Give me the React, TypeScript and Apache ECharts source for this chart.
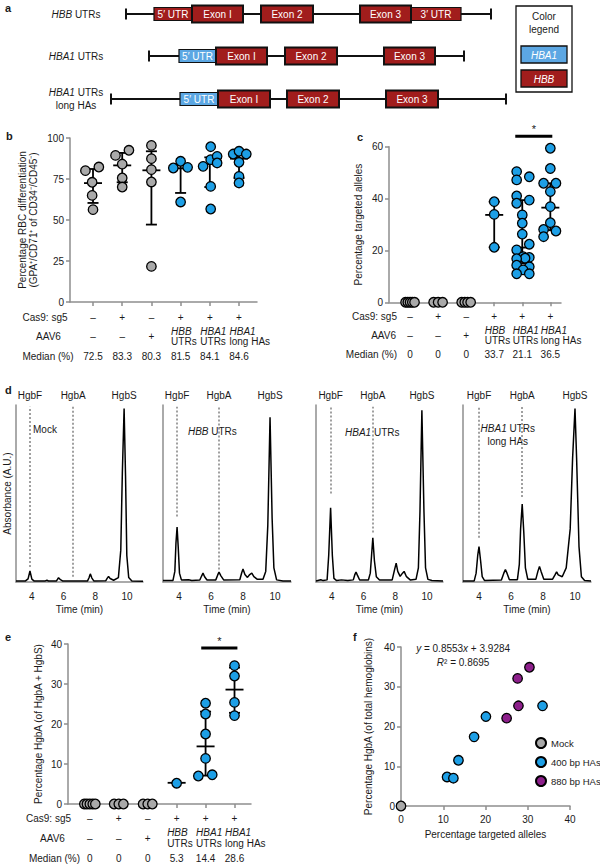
import React, { useEffect, useRef } from 'react';
import * as echarts from 'echarts';

const FONT = '"Liberation Sans", Arial, Helvetica, sans-serif';
const INK = '#1a1a1a';
const AXIS_GREY = '#8e8e8e';
const GREY = '#a9a9a9';
const BLUE = '#1d9fe6';
const PURPLE = '#8d1f8b';
const EXON_RED = '#a11d1c';
const UTR_BLUE = '#5ca7e3';

// ---------- panel a: gene constructs (schematic units) ----------
const geneRowLabels = ['{i|HBB} UTRs', '{i|HBA1} UTRs', '{i|HBA1} UTRs\nlong HAs'];
const geneRowY = [14, 56, 99];
const geneLines = [
  [126, 491, 0],
  [149, 464, 1],
  [111, 506, 2],
];
// start, end, row, kind (0 red UTR, 1 blue UTR, 2 exon)
const geneBoxes = [
  [154, 192, 0, 0], [411, 461, 0, 0], [192, 243, 0, 2], [261, 313, 0, 2], [360, 411, 0, 2],
  [179, 216, 1, 1], [216, 267, 1, 2], [285, 337, 1, 2], [384, 435, 1, 2],
  [180, 218, 2, 1], [218, 270, 2, 2], [287, 339, 2, 2], [386, 438, 2, 2],
];
const geneBoxLabels = [
  '5′ UTR', '3′ UTR', 'Exon I', 'Exon 2', 'Exon 3',
  '5′ UTR', 'Exon I', 'Exon 2', 'Exon 3',
  '5′ UTR', 'Exon I', 'Exon 2', 'Exon 3',
];

// ---------- shared table rows ----------
const cas9Row = ['–', '+', '–', '+', '+', '+'];
const aav6Row = ['–', '–', '+', '{i|HBB}\nUTRs', '{i|HBA1}\nUTRs', '{i|HBA1}\nlong HAs'];
const bMedianRow = ['72.5', '83.3', '80.3', '81.5', '84.1', '84.6'];
const cMedianRow = ['0', '0', '0', '33.7', '21.1', '36.5'];
const eMedianRow = ['0', '0', '0', '5.3', '14.4', '28.6'];

// ---------- panel b ----------
const bValues = [
  [80.1, 82.3, 73.0, 65.0, 56.3],
  [89.4, 92.5, 84.1, 75.6, 70.1],
  [95.5, 87.4, 80.7, 73.2, 21.7],
  [81.7, 85.8, 82.1, 61.0],
  [94.7, 82.7, 86.8, 88.8, 84.8, 70.5, 56.7],
  [90.2, 91.9, 90.2, 85.2, 76.6, 72.6],
];
const bJitter = [
  [-0.26, 0.2, -0.03, -0.03, 0],
  [-0.23, 0.23, 0, 0, 0],
  [0, 0, 0, 0, 0],
  [-0.25, 0, 0.24, 0],
  [0.03, -0.23, 0.03, 0.25, 0.25, 0.03, 0.03],
  [-0.2, 0, 0.25, 0, 0, 0],
];
const bErr = [
  [60.4, 72.5, 81.1],
  [73.0, 83.3, 90.9],
  [47.2, 80.3, 91.9],
  [66.5, 81.5, 84.0],
  [70.1, 84.1, 88.2],
  [75.6, 87.4, 90.5],
];

// ---------- panel c ----------
const cValues = [
  [0, 0, 0, 0, 0],
  [0, 0, 0],
  [0, 0, 0, 0],
  [38.8, 33.9, 21.2],
  [50.4, 48.4, 47.2, 41.0, 39.4, 38.2, 33.7, 30.5, 26.3, 22.4, 20.2, 17.6, 17.3, 17.0, 16.8, 14.3, 13.7, 12.5, 11.0, 11.0],
  [59.4, 51.6, 45.9, 45.9, 42.7, 36.9, 30.7, 28.1, 27.5, 25.3],
];
const cJitter = [
  [-0.16, -0.08, 0, 0.08, 0.16],
  [-0.16, 0, 0.16],
  [-0.16, -0.05, 0.05, 0.16],
  [0, 0, 0],
  [-0.2, 0.25, -0.2, -0.2, 0.25, -0.2, 0, 0, 0, 0.25, -0.2, 0.03, 0.25, 0.1, -0.2, -0.2, 0.25, 0.03, -0.2, 0.25],
  [0, 0, -0.24, 0.2, 0, 0, 0, -0.24, 0.2, -0.24],
];
const cErr = [null, null, null, [21.2, 33.7, 38.8], [15.0, 21.1, 39.4], [27.8, 36.5, 45.9]];
const cSig = [3.75, 5.07, 64];

// ---------- panel d: chromatograms [time (min), absorbance] ----------
const dMock = [[3.0,0.6],[3.6,0.6],[3.76,1.8],[3.88,6.2],[4.0,1.6],[4.15,0.5],[4.85,0.6],[4.95,1.0],[5.05,0.5],[5.55,0.6],[5.68,2.4],[5.8,1.3],[5.95,0.5],[7.5,0.5],[7.6,2.4],[7.68,4.6],[7.78,2.2],[7.9,0.6],[8.65,0.7],[8.75,2.2],[8.83,3.1],[8.93,2.0],[9.15,1.0],[9.45,2.5],[9.6,18],[9.7,62],[9.81,98],[9.9,60],[9.98,15],[10.1,2.5],[10.3,0.5],[11.0,0.4]];
const dHbb = [[3.0,0.8],[3.62,0.8],[3.74,6],[3.81,22],[3.88,31],[3.95,20],[4.03,5],[4.15,1.2],[4.6,1.3],[4.8,0.9],[5.3,1.1],[5.42,3.5],[5.5,5],[5.6,3],[5.75,1.1],[6.3,1.2],[6.42,4],[6.5,5.6],[6.62,3.5],[6.8,1.1],[7.8,1.3],[7.92,5.2],[8.0,7.3],[8.12,4.2],[8.28,2.6],[8.42,4.2],[8.55,5],[8.68,3],[8.9,1.5],[9.25,1.6],[9.42,6],[9.55,32],[9.69,93],[9.82,36],[9.93,8],[10.1,1.2],[10.5,0.6],[11.0,0.6]];
const dHba = [[3.0,0.6],[3.3,1.3],[3.45,0.8],[3.7,1.2],[3.8,15],[3.92,42],[4.03,15],[4.13,2],[4.3,0.8],[4.6,1.2],[5.0,0.8],[5.35,1.2],[5.44,4],[5.52,5.6],[5.6,4],[5.75,1.1],[6.3,1.1],[6.42,5],[6.5,15],[6.58,25],[6.68,12],[6.8,3],[7.0,1.1],[7.8,1.2],[7.95,7],[8.05,10.7],[8.15,6],[8.3,3.2],[8.45,5],[8.55,6],[8.7,3],[8.95,1.1],[9.3,1.5],[9.45,8],[9.55,40],[9.67,97],[9.8,40],[9.9,8],[10.05,1.5],[10.3,0.8],[11.0,0.6]];
const dHbaLong = [[3.0,0.6],[3.7,0.6],[3.82,5],[3.92,15],[4.0,20],[4.1,12],[4.2,3],[4.35,0.8],[5.4,1.1],[5.55,5],[5.65,7],[5.75,5],[5.9,1.3],[6.4,1.3],[6.52,10],[6.6,30],[6.7,44],[6.8,28],[6.9,8],[7.05,1.5],[7.55,1.5],[7.68,6],[7.78,8.7],[7.88,6],[8.05,1.6],[8.6,1.6],[8.75,4],[8.85,5.8],[8.95,4],[9.2,3],[9.45,8],[9.7,30],[9.85,70],[10.0,98],[10.1,70],[10.25,20],[10.4,3],[10.6,0.8],[11.0,0.6]];
const dTraces = [dMock, dHbb, dHba, dHbaLong];
const dPeakNames = ['HgbF', 'HgbA', 'HgbS'];
const dPeakTimes = [[3.88, 6.6, 9.81], [3.88, 6.5, 9.69], [3.92, 6.58, 9.67], [4.0, 6.7, 10.0]];
const dMarkerBottoms = [[8.5, 3], [37, 7], [50, 28], [25, 48]];
const dTitles = ['Mock', '{i|HBB} UTRs', '{i|HBA1} UTRs', '{i|HBA1} UTRs\nlong HAs'];
const dTitleAt = [[4.07, 86, 'left'], [4.56, 85.3, 'left'], [4.83, 84.7, 'left'], [5.8, 83, 'center']];
const dTimeTicks = [4, 6, 8, 10];

// ---------- panel e ----------
const eValues = [
  [0, 0, 0, 0, 0],
  [0, 0, 0],
  [0, 0, 0],
  [5.2],
  [25.2, 22.5, 17.5, 11.4, 7.0, 7.3],
  [34.6, 32.0, 25.4, 22.1],
];
const eJitter = [
  [-0.19, -0.1, 0, 0.1, 0.19],
  [-0.16, 0, 0.16],
  [-0.16, 0, 0.16],
  [0],
  [0, 0, 0, 0, -0.25, 0.23],
  [0, 0, 0, 0],
];
const eErr = [null, null, null, [5.3, 5.3, 5.3], [7.1, 14.4, 23.1], [22.8, 28.6, 34.1]];
const eSig = [3.85, 5.1, 39];

// ---------- panel f ----------
const fMock = [[0, 0]];
const f400 = [[10.9, 7.3], [12.4, 7.0], [13.6, 11.5], [17.3, 17.4], [20.1, 22.5], [33.5, 25.2]];
const f880 = [[25.0, 22.1], [27.8, 25.2], [27.6, 32.1], [30.4, 34.9]];
const fSeriesNames = ['Mock', '400 bp HAs', '880 bp HAs'];

// ---------- helpers ----------
const axisLineStyle = { color: AXIS_GREY, width: 1.5 };
const labelStyle = { fontSize: 10, fontFamily: FONT, color: INK };

function jitterPoints(values: number[][], jitter: number[][], cols: number[]) {
  const pts: number[][] = [];
  cols.forEach((i) => values[i].forEach((v, j) => pts.push([i + jitter[i][j], v])));
  return pts;
}

function errData(err: (number[] | null)[]) {
  const out: number[][] = [];
  err.forEach((e, i) => { if (e) out.push([i, e[0], e[1], e[2]]); });
  return out;
}

function errorSeries(idx: number, err: (number[] | null)[]) {
  return {
    type: 'custom', xAxisIndex: idx, yAxisIndex: idx, silent: true, z: 2,
    data: errData(err),
    encode: { x: 0, y: [1, 2, 3] },
    renderItem: (_p: any, api: any) => {
      const x = api.value(0);
      const lo = api.coord([x, api.value(1)]);
      const mid = api.coord([x, api.value(2)]);
      const hi = api.coord([x, api.value(3)]);
      const st = { stroke: '#000', lineWidth: 1.8 };
      return {
        type: 'group',
        children: [
          { type: 'line', shape: { x1: lo[0], y1: lo[1], x2: hi[0], y2: hi[1] }, style: st },
          { type: 'line', shape: { x1: lo[0] - 5.5, y1: lo[1], x2: lo[0] + 5.5, y2: lo[1] }, style: st },
          { type: 'line', shape: { x1: hi[0] - 5.5, y1: hi[1], x2: hi[0] + 5.5, y2: hi[1] }, style: st },
          { type: 'line', shape: { x1: mid[0] - 9, y1: mid[1], x2: mid[0] + 9, y2: mid[1] }, style: st },
        ],
      };
    },
  };
}

function sigSeries(idx: number, sig: number[]) {
  return {
    type: 'custom', xAxisIndex: idx, yAxisIndex: idx, silent: true, z: 4,
    data: [sig],
    encode: { x: [0, 1], y: 2 },
    renderItem: (_p: any, api: any) => {
      const a = api.coord([api.value(0), api.value(2)]);
      const b = api.coord([api.value(1), api.value(2)]);
      return {
        type: 'group',
        children: [
          { type: 'line', shape: { x1: a[0], y1: a[1], x2: b[0], y2: b[1] }, style: { stroke: '#000', lineWidth: 3 } },
          { type: 'text', x: (a[0] + b[0]) / 2, y: a[1] - 2, style: { text: '*', fontSize: 11, fontFamily: FONT, fill: INK, align: 'center', verticalAlign: 'bottom' } },
        ],
      };
    },
  };
}

function dotSeries(idx: number, name: string, data: number[][], color: string) {
  return {
    type: 'scatter', name, xAxisIndex: idx, yAxisIndex: idx, data, z: 3,
    symbol: 'circle', symbolSize: 9.5, clip: false,
    itemStyle: { color, borderColor: '#000', borderWidth: 1.3, opacity: 1 },
  };
}

function catX(gi: number, min: number, max: number) {
  return {
    type: 'value', gridIndex: gi, min, max,
    axisLine: { show: true, onZero: false, lineStyle: axisLineStyle },
    axisTick: { show: true, customValues: [0, 1, 2, 3, 4, 5], length: 4, lineStyle: axisLineStyle },
    axisLabel: { show: false },
    splitLine: { show: false },
  };
}

function valY(gi: number, max: number, interval: number, name: string, nameGap: number) {
  return {
    type: 'value', gridIndex: gi, min: 0, max, interval,
    name, nameLocation: 'middle', nameGap,
    nameTextStyle: { ...labelStyle, lineHeight: 11 },
    axisLine: { show: true, onZero: false, lineStyle: axisLineStyle },
    axisTick: { show: true, length: 4, lineStyle: axisLineStyle },
    axisLabel: { ...labelStyle, margin: 6 },
    splitLine: { show: false },
  };
}

function chromX(gi: number) {
  return {
    type: 'value', gridIndex: gi, min: 3, max: 11,
    name: 'Time (min)', nameLocation: 'middle', nameGap: 22, nameTextStyle: labelStyle,
    axisLine: { show: true, onZero: false, lineStyle: axisLineStyle },
    axisTick: { show: false },
    axisLabel: { ...labelStyle, margin: 9, customValues: dTimeTicks },
    splitLine: { show: false },
  };
}

function chromY(gi: number, name: string) {
  return {
    type: 'value', gridIndex: gi, min: 0, max: 100,
    name, nameLocation: 'middle', nameGap: 4, nameTextStyle: labelStyle,
    axisLine: { show: true, onZero: false, lineStyle: axisLineStyle },
    axisTick: { show: false }, axisLabel: { show: false }, splitLine: { show: false },
  };
}

function buildOption() {
  const grids = [
    { left: 0, top: 0, width: 600, height: 110 },
    { left: 70, top: 138, width: 187, height: 164 },
    { left: 389, top: 146.7, width: 172, height: 155.6 },
    { left: 16, top: 405, width: 127, height: 177 },
    { left: 163, top: 405, width: 128, height: 177 },
    { left: 316, top: 405, width: 127, height: 177 },
    { left: 463, top: 405, width: 128, height: 177 },
    { left: 68, top: 644, width: 183, height: 160 },
    { left: 401, top: 647, width: 169, height: 159 },
  ].map((g) => ({ ...g, containLabel: false, outerBoundsMode: 'none' }));

  const xAxis: any[] = [
    { type: 'value', gridIndex: 0, min: 0, max: 600, show: false },
    catX(1, -0.788, 5.616),
    catX(2, -0.75, 5.38),
    chromX(3), chromX(4), chromX(5), chromX(6),
    catX(7, -0.755, 5.57),
    {
      type: 'value', gridIndex: 8, min: 0, max: 40, interval: 10,
      name: 'Percentage targeted alleles', nameLocation: 'middle', nameGap: 23, nameTextStyle: labelStyle,
      axisLine: { show: true, onZero: false, lineStyle: axisLineStyle },
      axisTick: { show: true, length: 4, lineStyle: axisLineStyle },
      axisLabel: { ...labelStyle, margin: 8 }, splitLine: { show: false },
    },
  ];
  const yAxis: any[] = [
    { type: 'value', gridIndex: 0, min: 0, max: 110, inverse: true, show: false },
    valY(1, 100, 25, 'Percentage RBC differentiation\n(GPA⁺/CD71⁺ of CD34⁻/CD45⁻)', 31),
    valY(2, 60, 20, 'Percentage targeted alleles', 25),
    chromY(3, 'Absorbance (A.U.)'), chromY(4, ''), chromY(5, ''), chromY(6, ''),
    valY(7, 40, 10, 'Percentage HgbA (of HgbA + HgbS)', 24),
    valY(8, 40, 10, 'Percentage HgbA (of total hemoglobins)', 27),
  ];

  const series: any[] = [];

  // panel a
  series.push({
    type: 'custom', xAxisIndex: 0, yAxisIndex: 0, silent: true,
    data: geneLines, encode: { x: [0, 1], y: 2 },
    renderItem: (_p: any, api: any) => {
      const row = api.value(2);
      const a = api.coord([api.value(0), geneRowY[row]]);
      const b = api.coord([api.value(1), geneRowY[row]]);
      const st = { stroke: '#111', lineWidth: 2 };
      return {
        type: 'group',
        children: [
          { type: 'line', shape: { x1: a[0], y1: a[1], x2: b[0], y2: b[1] }, style: st },
          { type: 'line', shape: { x1: a[0], y1: a[1] - 5.5, x2: a[0], y2: a[1] + 5.5 }, style: st },
          { type: 'line', shape: { x1: b[0], y1: b[1] - 5.5, x2: b[0], y2: b[1] + 5.5 }, style: st },
        ],
      };
    },
  });
  series.push({
    type: 'custom', xAxisIndex: 0, yAxisIndex: 0, silent: true,
    data: geneBoxes, encode: { x: [0, 1], y: 2 },
    renderItem: (p: any, api: any) => {
      const row = api.value(2);
      const kind = api.value(3);
      const a = api.coord([api.value(0), geneRowY[row]]);
      const b = api.coord([api.value(1), geneRowY[row]]);
      const h = kind === 2 ? 17 : 13;
      return {
        type: 'group',
        children: [
          {
            type: 'rect',
            shape: { x: a[0], y: a[1] - h / 2, width: b[0] - a[0], height: h },
            style: { fill: kind === 1 ? UTR_BLUE : EXON_RED, stroke: '#111', lineWidth: kind === 2 ? 2 : 1.2 },
          },
          {
            type: 'text', x: (a[0] + b[0]) / 2, y: a[1] + 0.5,
            style: { text: geneBoxLabels[p.dataIndex], fill: '#fff', fontSize: 10, fontFamily: FONT, align: 'center', verticalAlign: 'middle' },
          },
        ],
      };
    },
  });

  // panel b
  series.push(errorSeries(1, bErr));
  series.push(dotSeries(1, 'b-ctrl', jitterPoints(bValues, bJitter, [0, 1, 2]), GREY));
  series.push(dotSeries(1, 'b-edit', jitterPoints(bValues, bJitter, [3, 4, 5]), BLUE));

  // panel c
  series.push(errorSeries(2, cErr));
  series.push(dotSeries(2, 'c-ctrl', jitterPoints(cValues, cJitter, [0, 1, 2]), GREY));
  series.push(dotSeries(2, 'c-edit', jitterPoints(cValues, cJitter, [3, 4, 5]), BLUE));
  series.push(sigSeries(2, cSig));

  // panel d
  dTraces.forEach((trace, k) => {
    const gi = 3 + k;
    series.push({
      type: 'line', xAxisIndex: gi, yAxisIndex: gi, data: trace, showSymbol: false, symbol: 'none',
      silent: true, z: 3,
      lineStyle: { color: '#000', width: 1.5 },
      markLine: {
        silent: true, symbol: 'none', label: { show: false },
        lineStyle: { type: [2, 2], color: '#a0a0a0', width: 2 },
        data: [
          [{ coord: [dPeakTimes[k][0], dMarkerBottoms[k][0]] }, { coord: [dPeakTimes[k][0], 99] }],
          [{ coord: [dPeakTimes[k][1], dMarkerBottoms[k][1]] }, { coord: [dPeakTimes[k][1], 99] }],
        ],
      },
    });
  });

  // panel e
  series.push(errorSeries(7, eErr));
  series.push(dotSeries(7, 'e-ctrl', jitterPoints(eValues, eJitter, [0, 1, 2]), GREY));
  series.push(dotSeries(7, 'e-edit', jitterPoints(eValues, eJitter, [3, 4, 5]), BLUE));
  series.push(sigSeries(7, eSig));

  // panel f
  series.push(dotSeries(8, fSeriesNames[0], fMock, GREY));
  series.push(dotSeries(8, fSeriesNames[1], f400, BLUE));
  series.push(dotSeries(8, fSeriesNames[2], f880, PURPLE));

  return {
    animation: false,
    backgroundColor: '#fff',
    textStyle: { fontFamily: FONT },
    grid: grids,
    xAxis, yAxis, series,
    legend: {
      data: fSeriesNames, orient: 'vertical', left: 535, top: 737, padding: 0,
      itemWidth: 10, itemHeight: 10, itemGap: 7, icon: 'circle',
      textStyle: { fontSize: 9.5, fontFamily: FONT, color: INK },
      selectedMode: false,
    },
  };
}

function txt(x: number, y: number, text: string, extra: any = {}) {
  return {
    type: 'text', x, y, silent: true,
    style: {
      text, fontSize: 10, fontFamily: FONT, fill: INK, align: 'center', verticalAlign: 'middle',
      lineHeight: 11,
      rich: {
        i: { fontStyle: 'italic', fontSize: extra.fontSize || 10, fontFamily: FONT, fill: extra.fill || INK, lineHeight: extra.lineHeight || 11 },
      },
      ...extra,
    },
  };
}

function tableTexts(chart: any, axisIdx: number, rowY: number[], headers: any[], medians: string[]) {
  const out: any[] = [];
  const headerText = ['Cas9: sg5', 'AAV6', 'Median (%)'];
  headers.forEach((h, r) => out.push(txt(h[0], rowY[r], headerText[r], { align: h[1] })));
  for (let i = 0; i < 6; i++) {
    const x = chart.convertToPixel({ xAxisIndex: axisIdx }, i) as number;
    out.push(txt(x, rowY[0], cas9Row[i]));
    const twoLine = aav6Row[i].indexOf('\n') >= 0;
    out.push(txt(twoLine ? x - 9.5 : x, rowY[1], aav6Row[i], { lineHeight: 10.5, align: twoLine ? 'left' : 'center' }));
    out.push(txt(x, rowY[2], medians[i]));
  }
  return out;
}

function buildGraphics(chart: any) {
  const els: any[] = [];
  const P = (gi: number, x: number, y: number) => chart.convertToPixel({ gridIndex: gi }, [x, y]) as number[];

  // panel letters
  [['a', 5, 8], ['b', 6, 136], ['c', 357, 137], ['d', 5, 390], ['e', 5, 637], ['f', 353, 637]].forEach((l: any) =>
    els.push(txt(l[1], l[2], l[0], { fontWeight: 'bold', fontSize: 11, align: 'left' })));

  // panel a labels and legend
  geneRowLabels.forEach((t, r) => els.push(txt(76, geneRowY[r] - (r === 2 ? 0.5 : 0), t, { lineHeight: 13 })));
  els.push({ type: 'rect', silent: true, shape: { x: 516, y: 6, width: 56, height: 86 }, style: { fill: '#fff', stroke: '#111', lineWidth: 1.3 } });
  els.push(txt(544, 16, 'Color'));
  els.push(txt(544, 29, 'legend'));
  els.push({ type: 'rect', silent: true, shape: { x: 521, y: 46, width: 46, height: 17 }, style: { fill: UTR_BLUE, stroke: '#111', lineWidth: 1.3 } });
  els.push(txt(544, 55, '{i|HBA1}', { fill: '#fff' }));
  els.push({ type: 'rect', silent: true, shape: { x: 521, y: 70, width: 46, height: 17 }, style: { fill: EXON_RED, stroke: '#111', lineWidth: 1.3 } });
  els.push(txt(544, 79, '{i|HBB}', { fill: '#fff' }));

  // tables under b, c, e
  els.push(...tableTexts(chart, 1, [317, 336.5, 356], [[45, 'center'], [48.5, 'center'], [48, 'center']], bMedianRow));
  els.push(...tableTexts(chart, 2, [316, 335.5, 354], [[397, 'right'], [396, 'right'], [397, 'right']], cMedianRow));
  els.push(...tableTexts(chart, 7, [818, 838, 858], [[48.5, 'center'], [52.5, 'center'], [54.5, 'center']], eMedianRow));

  // panel d labels
  dPeakTimes.forEach((times, k) => {
    const gi = 3 + k;
    times.forEach((t, j) => {
      const p = P(gi, t, 0);
      els.push(txt(p[0], 395, dPeakNames[j]));
    });
    const at: any = dTitleAt[k];
    const q = P(gi, at[0], at[1]);
    els.push(txt(q[0], q[1], dTitles[k], { align: at[2], lineHeight: 13 }));
  });

  // panel f equation
  const e1 = P(8, 14.7, 39.5);
  const e2 = P(8, 14.7, 36.2);
  els.push(txt(e1[0], e1[1], '{i|y} = 0.8553{i|x} + 3.9284'));
  els.push(txt(e2[0], e2[1], '{i|R}² = 0.8695'));

  return els;
}

export default function App() {
  const ref = useRef<HTMLDivElement>(null);
  useEffect(() => {
    const chart = echarts.init(ref.current!, null, { renderer: 'svg' });
    chart.setOption(buildOption() as any);
    chart.setOption({ graphic: { elements: buildGraphics(chart) } } as any);
    return () => chart.dispose();
  }, []);
  return <div ref={ref} style={{ position: 'absolute', left: 0, top: 0, width: 600, height: 865, background: '#fff' }} />;
}
